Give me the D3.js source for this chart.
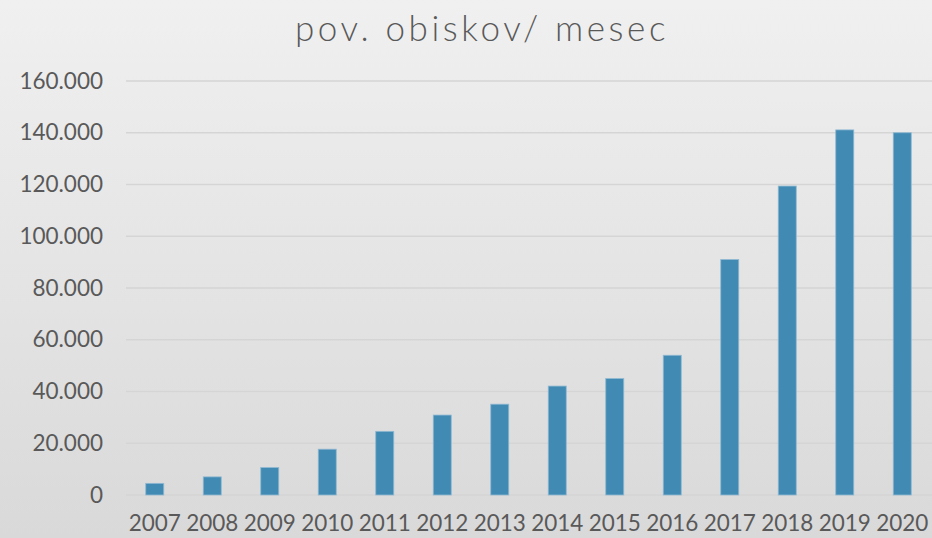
<!DOCTYPE html>
<html>
<head>
<meta charset="utf-8">
<script src="https://cdn.jsdelivr.net/npm/d3@7/dist/d3.min.js"></script>
<style>
  html, body { margin: 0; padding: 0; }
  body { width: 932px; height: 538px; overflow: hidden; }
  svg { display: block; }
  text { font-family: Lato, "Open Sans", sans-serif; fill: #595959; }
</style>
</head>
<body>
<svg id="chart" width="932" height="538"></svg>
<script>
const title = "pov. obiskov/ mesec";
const years = ["2007","2008","2009","2010","2011","2012","2013","2014","2015","2016","2017","2018","2019","2020"];
const visits = [4500, 7000, 10600, 17700, 24600, 30900, 35100, 42100, 45000, 54000, 91000, 119400, 141100, 140000];
const yTicks = [0, 20000, 40000, 60000, 80000, 100000, 120000, 140000, 160000];

const W = 932, H = 538;
const svg = d3.select("#chart");

const defs = svg.append("defs");
const grad = defs.append("linearGradient").attr("id", "bg").attr("x1", 0).attr("y1", 0).attr("x2", 0).attr("y2", 1);
grad.append("stop").attr("offset", "0%").attr("stop-color", "#f0f0f0");
grad.append("stop").attr("offset", "100%").attr("stop-color", "#d9d9d9");
svg.append("rect").attr("width", W).attr("height", H).attr("fill", "url(#bg)");

const x = d3.scaleBand().domain(years).range([126, 931]).paddingInner(0.687).paddingOuter(0.3435);
const y = d3.scaleLinear().domain([0, 160000]).range([495, 81]);

const fmt = v => v === 0 ? "0" : d3.format(",")(v).replace(/,/g, ".");

// gridlines
svg.append("g").selectAll("line").data(yTicks).join("line")
  .attr("x1", 126).attr("x2", W)
  .attr("y1", d => y(d)).attr("y2", d => y(d))
  .attr("stroke", "#d5d5d5").attr("stroke-width", 1.5);

// y axis labels via d3 axis
const yAxis = svg.append("g").attr("transform", "translate(103,0)")
  .call(d3.axisLeft(y).tickValues(yTicks).tickFormat(fmt).tickSize(0).tickPadding(0));
yAxis.select(".domain").remove();
yAxis.selectAll("text").attr("font-size", 22.5).attr("fill", "#595959")
  .attr("font-family", "Lato, 'Open Sans', sans-serif");

// bars
svg.append("g").selectAll("rect").data(visits).join("rect")
  .attr("x", (d, i) => x(years[i]))
  .attr("width", x.bandwidth())
  .attr("y", d => y(d))
  .attr("height", d => y(0) - y(d))
  .attr("fill", "#418ab3")
  .attr("stroke", "#8fb8d2").attr("stroke-width", 0.8);

// x axis labels
const xAxis = svg.append("g").attr("transform", "translate(0,515)")
  .call(d3.axisBottom(x).tickSize(0).tickPadding(0));
xAxis.select(".domain").remove();
xAxis.selectAll("text").attr("font-size", 22.5).attr("fill", "#595959")
  .attr("font-family", "Lato, 'Open Sans', sans-serif").attr("dy", "0.71em");

// title
svg.append("text").attr("x", 482).attr("y", 41).attr("text-anchor", "middle")
  .attr("font-size", 35).attr("font-weight", 300).attr("letter-spacing", 3.6)
  .attr("fill", "#595959").text(title);
</script>
</body>
</html>
